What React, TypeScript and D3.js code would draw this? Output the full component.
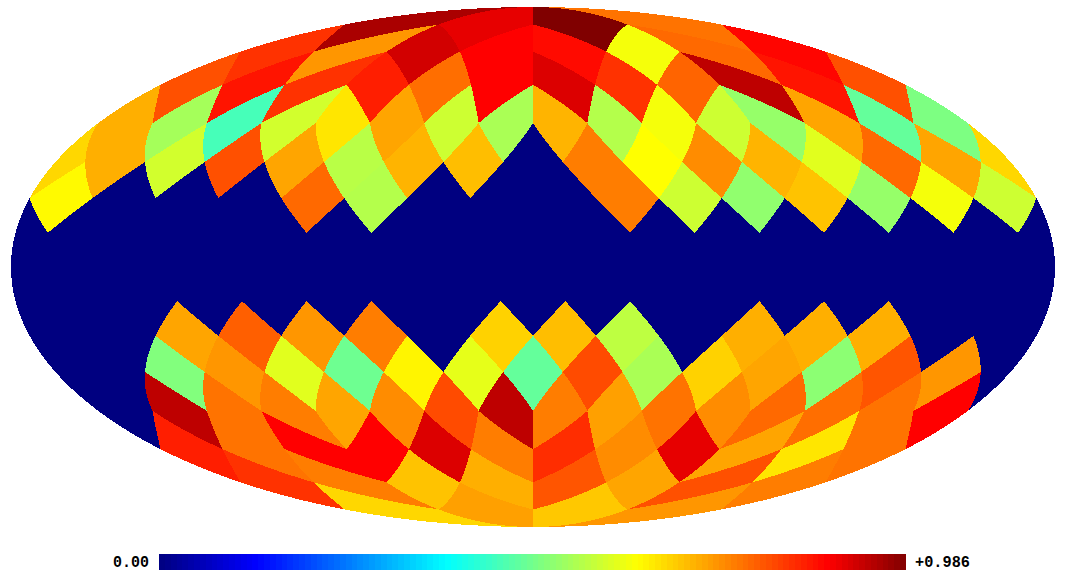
import React from "react";
import * as d3 from "d3";

// Map values per HEALPix ring (nside 4), left to right, as a fraction of the map maximum.
const ring01 = [0.965, 0.915, 1.0, 0.78];
const ring02 = [0.845, 0.745, 0.932, 0.895, 0.885, 0.63, 0.79, 0.89];
const ring03 = [0.815, 0.875, 0.845, 0.865, 0.785, 0.895, 0.924, 0.845, 0.795, 0.949, 0.875, 0.815];
const ring04 = [0.72, 0.55, 0.455, 0.595, 0.665, 0.73, 0.59, 0.555, 0.715, 0.565, 0.63, 0.59, 0.535, 0.73, 0.485, 0.51];
const ring05 = [0.68, 0.72, 0.595, 0.815, 0.73, 0.57, 0.715, 0.705, 0, 0.77, 0.64, 0.755, 0.715, 0.61, 0.79, 0.73];
const ring06 = [0.645, 0, 0, 0, 0.79, 0.565, 0, 0, 0, 0.77, 0.59, 0.53, 0.7, 0.535, 0.63, 0.59];
const ring07 = [0, 0, 0, 0, 0, 0, 0, 0, 0, 0, 0, 0, 0, 0, 0, 0];
const ring08 = [0, 0, 0, 0, 0, 0, 0, 0, 0, 0, 0, 0, 0, 0, 0, 0];
const ring09 = [0, 0, 0, 0, 0, 0, 0, 0, 0, 0, 0, 0, 0, 0, 0, 0];
const ring10 = [0, 0, 0.73, 0.8, 0.745, 0.77, 0, 0.685, 0.705, 0.575, 0, 0.72, 0.72, 0.72, 0, 0];
const ring11 = [0, 0, 0.515, 0.745, 0.61, 0.495, 0.65, 0.615, 0.485, 0.82, 0.555, 0.685, 0.73, 0.525, 0.81, 0.745];
const ring12 = [0, 0.949, 0.78, 0.77, 0.73, 0.755, 0.82, 0.949, 0.77, 0.735, 0.78, 0.755, 0.79, 0.785, 0.78, 0.895];
const ring13 = [0.865, 0.78, 0.895, 0.895, 0.924, 0.77, 0.85, 0.755, 0.915, 0.73, 0.665, 0.78];
const ring14 = [0.845, 0.77, 0.7, 0.72, 0.81, 0.73, 0.815, 0.77];
const ring15 = [0.68, 0.735, 0.695, 0.745];
const rings = [ring01, ring02, ring03, ring04, ring05, ring06, ring07, ring08, ring09, ring10, ring11, ring12, ring13, ring14, ring15];

const minLabel = "0.00";
const maxLabel = "+0.986";

const N = 4;
const W = 1067, H = 587;
const cx = 533, cy = 267, Rx = 522, Ry = 260;
const LEVELS = 128;

const rC = d3.scaleLinear([0.385, 0.64, 0.895, 1], [0, 255, 255, 128]).clamp(true);
const gC = d3.scaleLinear([0.13, 0.385, 0.64, 0.895], [0, 255, 255, 0]).clamp(true);
const bC = d3.scaleLinear([0, 0.13, 0.385, 0.64], [128, 255, 255, 0]).clamp(true);
const jet = (t: number) => `rgb(${Math.round(rC(t))},${Math.round(gC(t))},${Math.round(bC(t))})`;

function invH(x: number, y: number): [number, number] {
  const ay = Math.abs(y);
  if (ay <= Math.PI / 4) return [x, (8 * y) / (3 * Math.PI)];
  const sigma = 2 - (4 * ay) / Math.PI;
  const z = Math.sign(y) * (1 - (sigma * sigma) / 3);
  const k = Math.floor((x + Math.PI) / (Math.PI / 2));
  const xc = -Math.PI + (Math.PI / 2) * (Math.min(k, 3) + 0.5);
  const f = ay >= Math.PI / 2 - 1e-9 ? 0 : (ay - Math.PI / 4) / (ay - Math.PI / 2);
  return [x - f * (x - xc), z];
}
function moll(phi: number, z: number): [number, number] {
  const t = Math.PI * z;
  let th = Math.asin(z);
  for (let i = 0; i < 30; i++) {
    const c = 2 + 2 * Math.cos(2 * th);
    if (c < 1e-9) break;
    th -= (2 * th + Math.sin(2 * th) - t) / c;
  }
  return [cx + Rx * (phi / Math.PI) * Math.cos(th), cy - Ry * Math.sin(th)];
}
function cells() {
  const out: { x: number; y: number; v: number }[] = [];
  const d = Math.PI / (2 * N);
  rings.forEach((vals, idx) => {
    const r = idx + 1;
    const y = Math.PI / 2 - (r * Math.PI) / (4 * N);
    if (r < N || r > 3 * N) {
      const m = r < N ? r : 4 * N - r;
      let j = 0;
      for (let k = 0; k < 4; k++) {
        const xc = -Math.PI + (Math.PI / 2) * (k + 0.5);
        for (let a = 0; a < m; a++) out.push({ x: xc + (a - (m - 1) / 2) * d, y, v: vals[j++] });
      }
    } else {
      const shifted = r % 2 === 0;
      vals.forEach((v, a) => {
        out.push({ x: -Math.PI + (a + (shifted ? 0.5 : 0)) * d, y, v });
        if (!shifted && a === 0) out.push({ x: Math.PI, y, v });
      });
    }
  });
  return out;
}
function cellPath(x: number, y: number) {
  const h = Math.PI / (4 * N);
  const cs: [number, number][] = [[x, y + h], [x + h, y], [x, y - h], [x - h, y]];
  const pts: [number, number][] = [];
  for (let i = 0; i < 4; i++) {
    const [a, b] = cs[i], [c, e] = cs[(i + 1) % 4];
    for (let s = 0; s < 16; s++) {
      const t = s / 16;
      const px = Math.max(-Math.PI, Math.min(Math.PI, a + (c - a) * t));
      const [p, z] = invH(px, b + (e - b) * t);
      pts.push(moll(p, z));
    }
  }
  return d3.line()(pts) + "Z";
}
export default function App() {
  const barX = d3.scaleLinear([0, LEVELS], [159, 906]);
  const font = { fontFamily: "'Liberation Mono', monospace", fontSize: 17, fontWeight: 700, fill: "#000", lengthAdjust: "spacingAndGlyphs" };
  return (
    <svg width={W} height={H} style={{ position: "absolute", left: 0, top: 0, background: "#fff" }}>
      <ellipse cx={cx} cy={cy} rx={Rx} ry={Ry} fill={jet(0)} shapeRendering="crispEdges" />
      <g shapeRendering="crispEdges">
        {cells().map((p, i) => (
          <path key={i} d={cellPath(p.x, p.y)} fill={jet(p.v)} />
        ))}
      </g>
      <g shapeRendering="crispEdges">
        {d3.range(LEVELS).map((i) => (
          <rect key={i} x={barX(i)} y={554} width={barX(i + 1) - barX(i) + (i < LEVELS - 1 ? 0.5 : 0)} height={16} fill={jet((i + 0.5) / LEVELS)} />
        ))}
      </g>
      <text x={113} y={567} textLength={36} {...font}>{minLabel}</text>
      <text x={915} y={567} textLength={55} {...font}>{maxLabel}</text>
    </svg>
  );
}
